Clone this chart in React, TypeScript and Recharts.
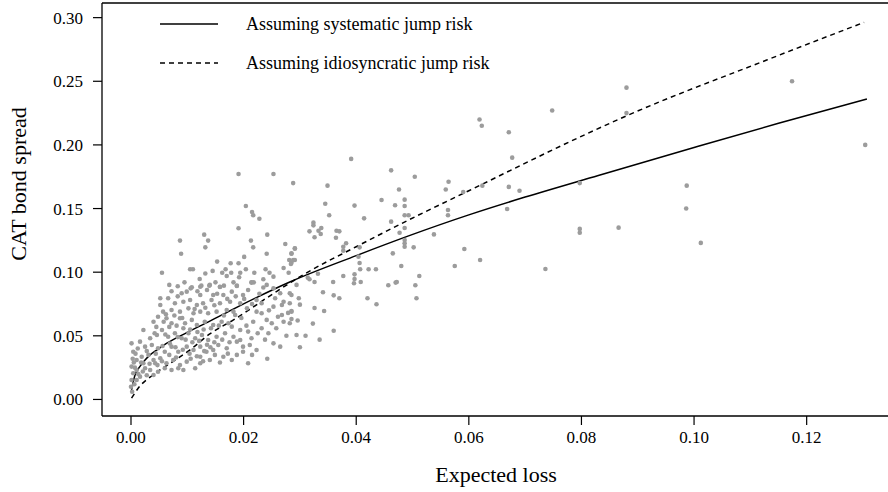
import { ComposedChart, Scatter, Line, XAxis, YAxis, ReferenceLine, Legend } from "recharts";

// CAT bond spreads vs expected loss
const bondPoints: [number, number][] = [
  // sparse right-hand tail
  [0.1304, 0.2], [0.1174, 0.25], [0.088, 0.245], [0.088, 0.225], [0.0987, 0.168], [0.0986, 0.15],
  [0.0866, 0.135], [0.1012, 0.123], [0.0797, 0.17], [0.0797, 0.134], [0.0797, 0.131],
  // middle band
  [0.0748, 0.227], [0.0619, 0.22], [0.0623, 0.215], [0.0671, 0.21], [0.0391, 0.189], [0.0462, 0.18],
  [0.0504, 0.175], [0.0288, 0.17], [0.0349, 0.168], [0.0677, 0.19], [0.0564, 0.171], [0.0559, 0.165],
  [0.0624, 0.168], [0.0671, 0.167], [0.069, 0.164], [0.059, 0.163], [0.0476, 0.165], [0.0486, 0.157],
  [0.0486, 0.152], [0.0469, 0.1526], [0.0445, 0.1567], [0.0397, 0.1523], [0.0345, 0.1538], [0.0352, 0.1447],
  [0.0414, 0.1423], [0.0486, 0.1447], [0.0493, 0.1447], [0.0563, 0.1489], [0.0563, 0.1447], [0.0668, 0.1497],
  [0.0324, 0.1389], [0.0324, 0.1368], [0.0338, 0.1347], [0.0333, 0.1326], [0.0317, 0.1321], [0.0337, 0.13],
  [0.0365, 0.1326], [0.037, 0.1321], [0.0326, 0.1274], [0.0364, 0.1271], [0.0462, 0.1397], [0.0486, 0.1347],
  [0.0477, 0.131], [0.0538, 0.1297], [0.0486, 0.1253], [0.0486, 0.1227], [0.0486, 0.12], [0.0502, 0.1195],
  [0.0382, 0.1227], [0.0377, 0.12], [0.0377, 0.1169], [0.0406, 0.1195], [0.0404, 0.1122], [0.0406, 0.1072],
  [0.0407, 0.1023], [0.0422, 0.1023], [0.0435, 0.1023], [0.0465, 0.1148], [0.048, 0.1049], [0.0512, 0.097],
  [0.0592, 0.1182], [0.0575, 0.1049], [0.062, 0.1096], [0.0736, 0.1025], [0.0397, 0.0983], [0.0377, 0.097],
  [0.0397, 0.0947], [0.0396, 0.0913], [0.0408, 0.0923], [0.0359, 0.0923], [0.0332, 0.0988], [0.0326, 0.0923],
  [0.0314, 0.0957], [0.0317, 0.0944], [0.0341, 0.0842], [0.036, 0.0818], [0.037, 0.0795], [0.042, 0.0795],
  [0.0436, 0.0748], [0.0457, 0.0897], [0.047, 0.0918], [0.0472, 0.0923], [0.0505, 0.0897], [0.0507, 0.0795],
  [0.0326, 0.0719], [0.0343, 0.0695], [0.0323, 0.0596], [0.03, 0.0745], [0.0298, 0.0795], [0.0285, 0.0821],
  [0.0285, 0.0695], [0.0285, 0.0632], [0.0291, 0.1188], [0.0285, 0.1148], [0.0291, 0.1096], [0.0285, 0.1075],
  [0.031, 0.05], [0.0335, 0.047], [0.03, 0.041], [0.036, 0.054],
  // upper part of the main cluster
  [0.0191, 0.1771], [0.0253, 0.1771], [0.0204, 0.152], [0.0215, 0.1473], [0.0217, 0.1447], [0.0228, 0.142],
  [0.0191, 0.1345], [0.013, 0.1295], [0.0087, 0.1248], [0.0137, 0.1248], [0.0132, 0.1195], [0.0213, 0.1248],
  [0.0242, 0.1295], [0.0217, 0.1195], [0.0274, 0.1222], [0.0291, 0.1185], [0.0089, 0.1145], [0.0241, 0.1145],
  [0.0201, 0.112], [0.0153, 0.1083], [0.0177, 0.107], [0.0191, 0.107], [0.0285, 0.1145], [0.0281, 0.1096],
  [0.0288, 0.1096], [0.0284, 0.1064], [0.0105, 0.1023], [0.011, 0.1023], [0.0055, 0.0996], [0.0168, 0.1023],
  [0.0162, 0.0996], [0.0178, 0.0996], [0.0204, 0.1023], [0.0194, 0.0996], [0.0219, 0.0996], [0.0239, 0.1023],
  [0.0246, 0.0996], [0.0271, 0.1033], [0.028, 0.0996], [0.017, 0.097], [0.0192, 0.096], [0.0122, 0.0947],
  [0.0125, 0.0894], [0.0139, 0.0894], [0.015, 0.092], [0.0158, 0.0884], [0.0165, 0.0894], [0.0188, 0.0894],
  [0.0214, 0.092], [0.0218, 0.092], [0.0235, 0.0944], [0.0253, 0.0965], [0.0106, 0.0873],
  // dense core
  [0.0108, 0.0881], [0.0123, 0.0886], [0.014, 0.09], [0.0158, 0.0886], [0.0188, 0.0892], [0.0214, 0.0918],
  [0.0241, 0.09], [0.0253, 0.0873], [0.0282, 0.0834], [0.009, 0.0834], [0.0099, 0.0847], [0.0123, 0.0821],
  [0.0146, 0.0821], [0.0164, 0.0821], [0.0179, 0.0847], [0.0199, 0.0821], [0.0223, 0.0782], [0.0232, 0.0756],
  [0.0253, 0.0729], [0.0268, 0.0742], [0.0285, 0.069], [0.0052, 0.0795], [0.0066, 0.0795], [0.0052, 0.0742],
  [0.0078, 0.0756], [0.0093, 0.0768], [0.0105, 0.0782], [0.0117, 0.0742], [0.0128, 0.0756], [0.0143, 0.0782],
  [0.0158, 0.0756], [0.0176, 0.0768], [0.0194, 0.0756], [0.0206, 0.0716], [0.0057, 0.069], [0.0072, 0.0703],
  [0.0087, 0.069], [0.0102, 0.0716], [0.0111, 0.0677], [0.0123, 0.069], [0.0137, 0.0677], [0.0152, 0.069],
  [0.017, 0.0703], [0.0185, 0.0664], [0.0223, 0.069], [0.0241, 0.0625], [0.025, 0.0599], [0.0271, 0.0611],
  [0.0282, 0.0599], [0.0022, 0.0546], [0.004, 0.0611], [0.0048, 0.065], [0.0063, 0.0638], [0.0072, 0.0599],
  [0.0087, 0.0638], [0.0096, 0.0599], [0.0108, 0.0625], [0.0117, 0.0585], [0.0131, 0.0611], [0.0146, 0.0585],
  [0.0161, 0.0611], [0.0179, 0.0572], [0.0194, 0.0546], [0.0208, 0.0533], [0.0167, 0.052], [0.0182, 0.0493],
  [0.0194, 0.0467], [0.0211, 0.0428], [0.0223, 0.0389], [0.0253, 0.0441], [0.0265, 0.0415], [0.0294, 0.0507],
  [0.0268, 0.0664], [0.0034, 0.0481], [0.0046, 0.0507], [0.0055, 0.0546], [0.0066, 0.0493], [0.0078, 0.052],
  [0.009, 0.0481], [0.0102, 0.052], [0.0114, 0.0481], [0.0126, 0.0507], [0.0137, 0.0467], [0.0152, 0.0493],
  [0.0016, 0.0454], [0.0025, 0.0415], [0.0037, 0.0428], [0.0048, 0.0402], [0.006, 0.0375], [0.0072, 0.0415],
  [0.0084, 0.0375], [0.0099, 0.0415], [0.0111, 0.0389], [0.0123, 0.0415], [0.0134, 0.0375], [0.0146, 0.0389],
  [0.0001, 0.0441], [0.0004, 0.0375], [0.001, 0.031], [0.0019, 0.0336], [0.0031, 0.035], [0.004, 0.031],
  [0.0052, 0.0324], [0.0063, 0.0284], [0.0075, 0.031], [0.0087, 0.0271], [0.0099, 0.0297], [0.0114, 0.0245],
  [0.0123, 0.0284], [0.014, 0.031], [0.0149, 0.035], [0.0188, 0.035], [0.0208, 0.0284], [0.0123, 0.0336],
  [0.0001, 0.0258], [0.0004, 0.0206], [0.001, 0.0232], [0.0001, 0.0153], [0.0, 0.01], [0.001, 0.0153],
  [0.0016, 0.0179], [0.0025, 0.0245], [0.0034, 0.0232], [0.004, 0.0192], [0.0048, 0.0218], [0.006, 0.0245],
  [0.0072, 0.0232], [0.0084, 0.0245], [0.0093, 0.0232], [0.0022, 0.0284], [0.0043, 0.0284], [0.0173, 0.0599],
  [0.0217, 0.0611], [0.0232, 0.0559], [0.0244, 0.052], [0.0214, 0.0481], [0.0155, 0.0428], [0.017, 0.0402],
  [0.0188, 0.0454], [0.0199, 0.0415], [0.0164, 0.0336], [0.0179, 0.031], [0.0199, 0.0375], [0.0232, 0.0677],
  [0.0256, 0.0795], [0.0271, 0.0768], [0.0282, 0.0756], [0.0294, 0.09], [0.0265, 0.0834],
  // overlapping dots inside the thickest part of the cloud
  [0.0045, 0.057], [0.0058, 0.061], [0.0068, 0.057], [0.0081, 0.058], [0.0093, 0.056], [0.0105, 0.055],
  [0.0118, 0.053], [0.0129, 0.055], [0.0142, 0.056], [0.0156, 0.058], [0.0042, 0.052], [0.0061, 0.051],
  [0.0083, 0.049], [0.0097, 0.047], [0.0109, 0.045], [0.0121, 0.046], [0.0135, 0.043], [0.0148, 0.045],
  [0.0162, 0.047], [0.0175, 0.045], [0.0028, 0.038], [0.0044, 0.036], [0.0056, 0.042], [0.0069, 0.044],
  [0.0079, 0.041], [0.0092, 0.039], [0.0104, 0.036], [0.0117, 0.034], [0.013, 0.038], [0.0141, 0.041],
  [0.0018, 0.029], [0.0033, 0.028], [0.0047, 0.027], [0.0055, 0.03], [0.0068, 0.035], [0.008, 0.033],
  [0.0106, 0.032], [0.0128, 0.03], [0.0158, 0.029], [0.0172, 0.036], [0.0005, 0.029], [0.0008, 0.036],
  [0.0012, 0.04], [0.0003, 0.032], [0.0007, 0.025], [0.0013, 0.02], [0.0021, 0.022], [0.0028, 0.019],
  [0.0006, 0.012], [0.0002, 0.006], [0.0062, 0.067], [0.0077, 0.066], [0.0091, 0.064], [0.0113, 0.071],
  [0.0132, 0.072], [0.0148, 0.074], [0.0165, 0.066], [0.0182, 0.069], [0.0196, 0.064], [0.0205, 0.058],
  [0.0072, 0.085], [0.0083, 0.081], [0.0118, 0.085], [0.0135, 0.086], [0.0153, 0.083], [0.0171, 0.079],
  [0.0186, 0.081], [0.0201, 0.079], [0.0215, 0.075], [0.0228, 0.083], [0.0225, 0.052], [0.0238, 0.047],
  [0.0215, 0.035], [0.0242, 0.032], [0.0258, 0.056], [0.0276, 0.05], [0.0261, 0.065], [0.0279, 0.068],
  [0.0296, 0.062], [0.0245, 0.07], [0.0095, 0.092], [0.0083, 0.089], [0.0068, 0.09], [0.0132, 0.099],
  [0.0145, 0.101], [0.0235, 0.088], [0.0208, 0.086], [0.0182, 0.092],
];

const systematicCurve = [
  { x: 0.0001, y: 0.0075 }, { x: 0.0007, y: 0.019 }, { x: 0.0016, y: 0.026 }, { x: 0.0025, y: 0.031 },
  { x: 0.0034, y: 0.035 }, { x: 0.0048, y: 0.0395 }, { x: 0.0063, y: 0.044 }, { x: 0.0099, y: 0.0525 },
  { x: 0.014, y: 0.0615 }, { x: 0.0186, y: 0.072 }, { x: 0.0283, y: 0.0925 }, { x: 0.04, y: 0.113 },
  { x: 0.0493, y: 0.1285 }, { x: 0.06, y: 0.145 }, { x: 0.07, y: 0.159 }, { x: 0.083, y: 0.176 },
  { x: 0.1, y: 0.198 }, { x: 0.115, y: 0.217 }, { x: 0.1307, y: 0.236 },
];

const idiosyncraticCurve = [
  { x: 0.0001, y: 0.001 }, { x: 0.0013, y: 0.009 }, { x: 0.004, y: 0.0195 }, { x: 0.0075, y: 0.03 },
  { x: 0.0105, y: 0.039 }, { x: 0.014, y: 0.0515 }, { x: 0.0182, y: 0.0625 }, { x: 0.0259, y: 0.085 },
  { x: 0.0306, y: 0.098 }, { x: 0.04, y: 0.12 }, { x: 0.0493, y: 0.141 }, { x: 0.06, y: 0.164 },
  { x: 0.0806, y: 0.208 }, { x: 0.0881, y: 0.223 }, { x: 0.1129, y: 0.2667 }, { x: 0.1302, y: 0.2963 },
];

const xTicks = [0, 0.02, 0.04, 0.06, 0.08, 0.1, 0.12];
const yTicks = [0, 0.05, 0.1, 0.15, 0.2, 0.25, 0.3];
const xDomain = [-0.00515, 0.1348];
const yDomain = [-0.013, 0.3115];

const legendItems = [
  { label: "Assuming systematic jump risk", dash: undefined },
  { label: "Assuming idiosyncratic jump risk", dash: "5 4" },
];

const FONT = "'Liberation Serif', 'DejaVu Serif', serif";
const scatterData = bondPoints.map(([x, y]) => ({ x, y }));

function LegendBox() {
  return (
    <svg width={360} height={60}>
      {legendItems.map((it, i) => (
        <g key={it.label} transform={`translate(0, ${10 + i * 39})`}>
          <line x1={0} x2={58} y1={0} y2={0} stroke="#000" strokeWidth={1.3} strokeDasharray={it.dash} />
          <text x={86} y={6} fontFamily={FONT} fontSize={18} fill="#000">{it.label}</text>
        </g>
      ))}
    </svg>
  );
}

export default function App() {
  const axisFont = { fontFamily: FONT, fontSize: 17, fill: "#000" };
  return (
    <div style={{ position: "absolute", left: 0, top: 0, width: 888, height: 492, overflow: "hidden", background: "#fff" }}>
      <ComposedChart width={890} height={492} margin={{ top: 3, right: 0, bottom: 0, left: 0 }}>
        <XAxis
          type="number"
          dataKey="x"
          domain={xDomain}
          ticks={xTicks}
          allowDataOverflow
          height={76}
          tickSize={9}
          tickMargin={6}
          tick={axisFont}
          tickFormatter={(v: number) => v.toFixed(2)}
          axisLine={{ stroke: "#000", strokeWidth: 1.3 }}
          tickLine={{ stroke: "#000", strokeWidth: 1.2 }}
          label={{ value: "Expected loss", position: "insideBottom", offset: 10, style: { fontFamily: FONT, fontSize: 22, fill: "#000" } }}
        />
        <YAxis
          type="number"
          dataKey="y"
          domain={yDomain}
          ticks={yTicks}
          allowDataOverflow
          width={102}
          tickSize={9}
          tickMargin={10}
          tick={axisFont}
          tickFormatter={(v: number) => v.toFixed(2)}
          axisLine={{ stroke: "#000", strokeWidth: 1.3 }}
          tickLine={{ stroke: "#000", strokeWidth: 1.2 }}
          label={() => (
            <text x={26} y={184} transform="rotate(-90 26 184)" textAnchor="middle" fontFamily={FONT} fontSize={22} fill="#000">
              CAT bond spread
            </text>
          )}
        />
        <ReferenceLine y={yDomain[1]} stroke="#000" strokeWidth={1.3} ifOverflow="visible" />
        <Legend
          layout="horizontal"
          verticalAlign="middle"
          align="center"
          content={() => <LegendBox />}
          wrapperStyle={{ position: "absolute", left: 160, top: 14, width: 360, height: 60 }}
        />
        <Scatter
          data={scatterData}
          dataKey="y"
          isAnimationActive={false}
          legendType="none"
          shape={(p: any) => <circle cx={p.cx} cy={p.cy} r={2.3} fill="#9c9c9c" />}
        />
        <Line data={systematicCurve} dataKey="y" type="monotone" stroke="#000" strokeWidth={1.5} dot={false} isAnimationActive={false} />
        <Line data={idiosyncraticCurve} dataKey="y" type="monotone" stroke="#000" strokeWidth={1.5} strokeDasharray="5 4" dot={false} isAnimationActive={false} />
      </ComposedChart>
    </div>
  );
}
